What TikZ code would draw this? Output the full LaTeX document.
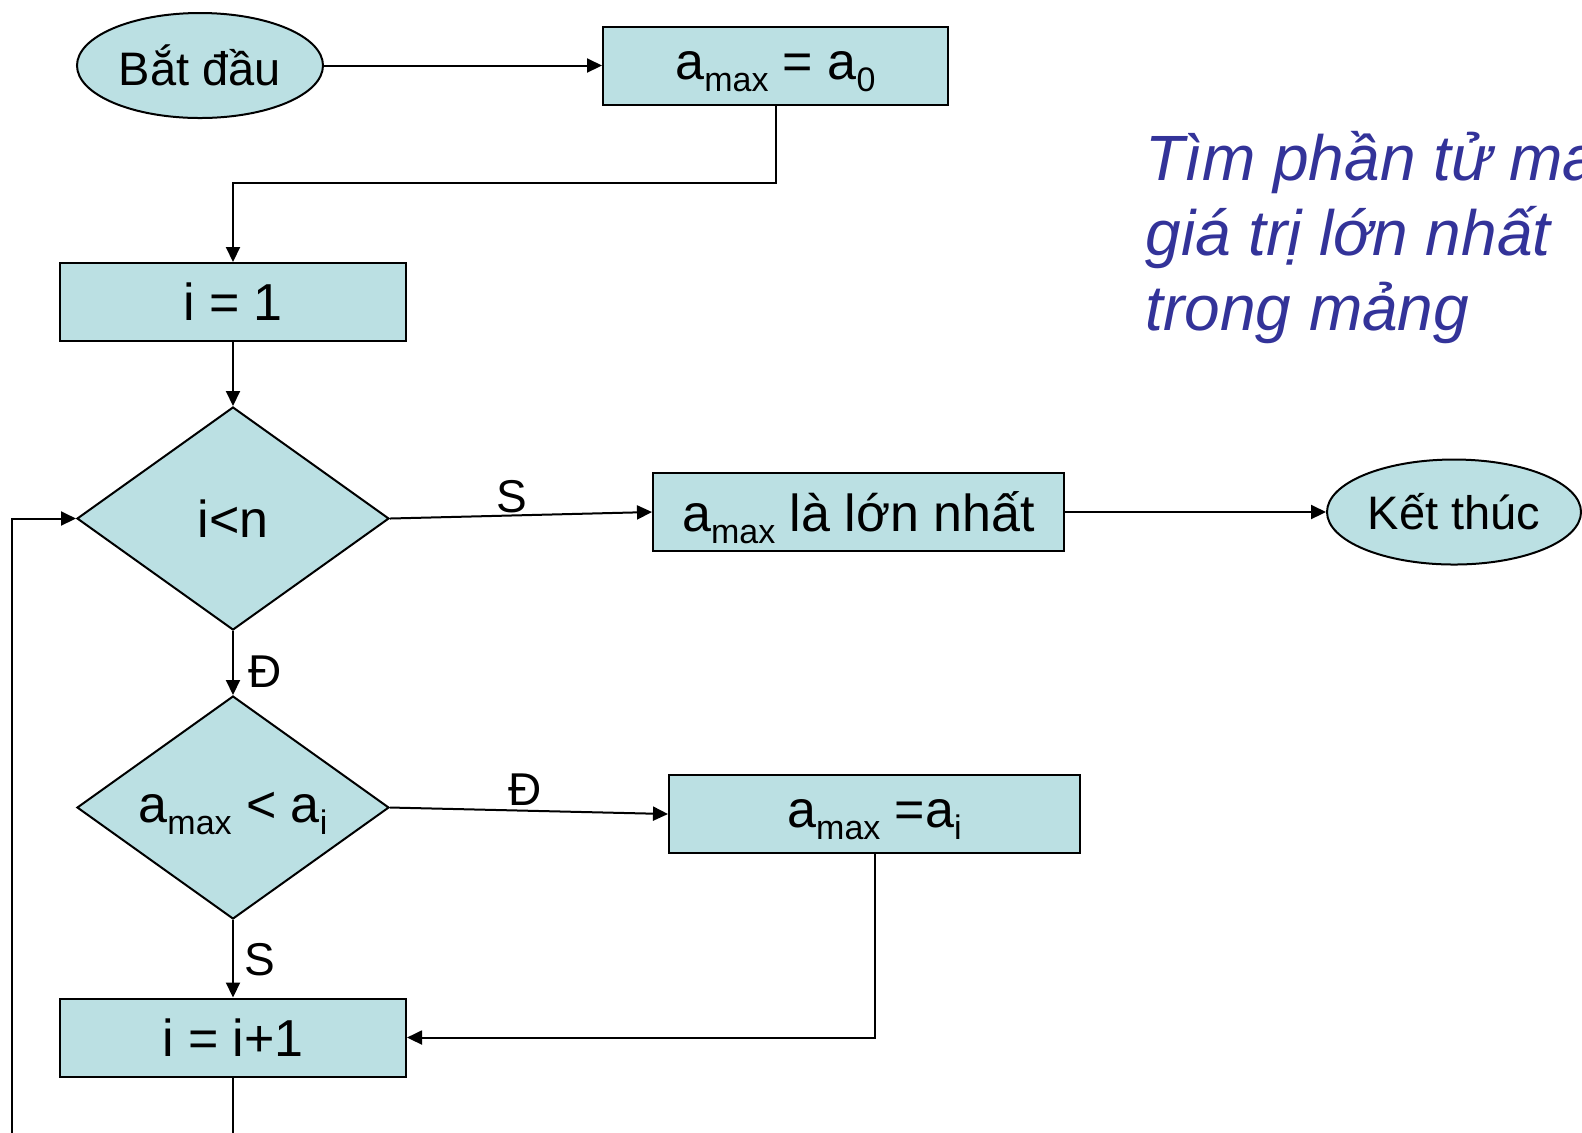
\documentclass[tikz,border=0pt]{standalone}
\usepackage{fontspec}
\setmainfont{Liberation Sans}
\usetikzlibrary{shapes.geometric,arrows.meta}
\definecolor{boxfill}{RGB}{187,224,227}
\definecolor{titleblue}{RGB}{51,51,153}
\newcommand\mysub[1]{\raisebox{-6pt}[0pt][0pt]{\fontsize{17}{17}\selectfont #1}}
\tikzset{
  base/.style={draw=black, line width=1pt, fill=boxfill, inner sep=0pt, font=\fontsize{26}{30}\selectfont},
  procbox/.style={base, rectangle, minimum height=39pt},
  termbox/.style={base, ellipse, minimum width=123pt, minimum height=52.5pt, font=\fontsize{23.5}{28}\selectfont},
  decbox/.style={base, diamond, minimum width=156pt, minimum height=111.5pt},
  lbl/.style={font=\fontsize{23}{27}\selectfont, inner sep=0pt},
  arr/.style={line width=1pt, -{Triangle[length=7.5pt,width=7pt]}},
}
\begin{document}
\begin{tikzpicture}[x=0.5pt, y=-0.5pt]
\useasboundingbox (0,0) rectangle (1582,1132);
\clip (0,0) rectangle (1582,1132);
\node[termbox] (start) at (200,65.5) {Bắt đầu};
\node[procbox, minimum width=172.5pt] (a0) at (775.5,65.5) {a\mysub{max} = a\mysub{0}};
\node[procbox, minimum width=173pt] (i1) at (233,302) {i = 1};
\node[decbox] (cond) at (233,518.5) {i<n};
\node[procbox, minimum width=205.5pt] (maxis) at (858.5,512) {a\mysub{max} là lớn nhất};
\node[termbox, minimum width=127pt] (end) at (1454,512) {Kết thúc};
\node[decbox] (cmp) at (233,807.5) {a\mysub{max} < a\mysub{i}};
\node[procbox, minimum width=205.5pt] (assign) at (874.5,814) {a\mysub{max} =a\mysub{i}};
\node[procbox, minimum width=173pt] (inc) at (233,1037.5) {i = i+1};
\node[font=\fontsize{32}{37.5}\selectfont\itshape, text=titleblue, align=left, anchor=base west, inner sep=0pt] (title) at (1145,330)
  {Tìm phần tử ma\\giá trị lớn nhất\\trong mảng};
\node[lbl] (s1) at (512,497) {S};
\node[lbl] (d1) at (265,672) {Đ};
\node[lbl] (d2) at (525,790) {Đ};
\node[lbl] (s2) at (260,960) {S};
\coordinate (lp) at (12,1200);
\draw[arr] (start.east) -- (a0.west);
\draw[arr] (a0.south) |- (233,183) -- (i1.north);
\draw[arr] (i1) -- (cond);
\draw[arr] (cond.east) -- (maxis.west);
\draw[arr] (maxis) -- (end);
\draw[arr] (cond) -- (cmp);
\draw[arr] (cmp.east) -- (assign.west);
\draw[arr] (cmp) -- (inc);
\draw[arr] (assign.south) |- (inc.east);
\draw[arr] (inc.south) |- (lp) |- (cond.west);
\end{tikzpicture}
\end{document}
